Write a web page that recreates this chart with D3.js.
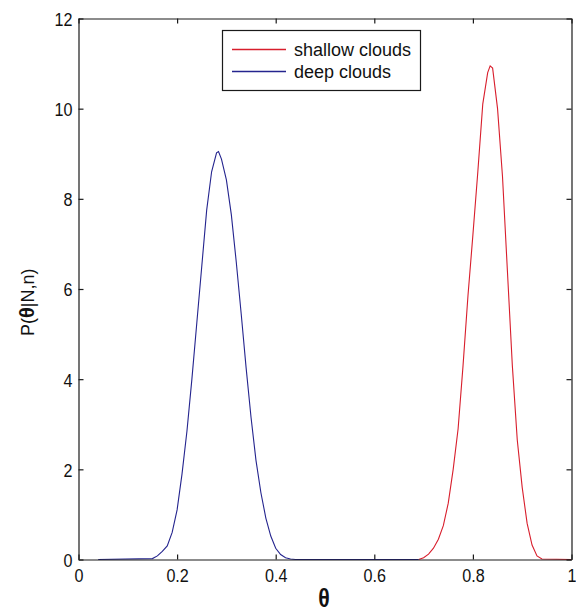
<!DOCTYPE html>
<html>
<head>
<meta charset="utf-8">
<script src="https://cdn.jsdelivr.net/npm/d3@7"></script>
<style>
  html, body { margin: 0; padding: 0; background: #fff; }
  svg { display: block; }
  text { font-family: "Liberation Sans", Arial, Helvetica, sans-serif; fill: #111; }
</style>
</head>
<body>
<svg id="chart" width="576" height="614"></svg>
<script>
// Posterior densities of theta for the two cloud types
const thetaDeep = [0.04, 0.15, 0.16, 0.17, 0.18, 0.19, 0.20, 0.21, 0.22, 0.23, 0.24, 0.25, 0.26, 0.27, 0.28, 0.284,
                   0.29, 0.30, 0.31, 0.32, 0.33, 0.34, 0.35, 0.36, 0.37, 0.38, 0.39, 0.40, 0.41, 0.42, 0.43, 0.44, 0.69];
const pDeep     = [0, 0.02, 0.08, 0.18, 0.30, 0.60, 1.10, 1.90, 2.85, 4.00, 5.25, 6.50, 7.75, 8.60, 9.02, 9.05,
                   8.88, 8.42, 7.65, 6.60, 5.45, 4.25, 3.15, 2.20, 1.48, 0.92, 0.52, 0.25, 0.11, 0.04, 0.01, 0, 0];

const thetaShallow = [0.69, 0.70, 0.71, 0.72, 0.73, 0.74, 0.75, 0.76, 0.77, 0.78, 0.79, 0.80, 0.81, 0.82, 0.83, 0.835,
                      0.84, 0.85, 0.86, 0.87, 0.88, 0.89, 0.90, 0.91, 0.92, 0.93, 0.94, 1.00];
const pShallow     = [0, 0.04, 0.12, 0.25, 0.45, 0.75, 1.25, 2.00, 2.90, 4.30, 5.85, 7.20, 8.60, 10.10, 10.80, 10.95,
                      10.90, 10.00, 8.50, 6.40, 4.30, 2.65, 1.60, 0.80, 0.32, 0.08, 0.01, 0];

const seriesNames = ["shallow clouds", "deep clouds"];
const seriesColors = ["#d81e2c", "#24248e"];

const xTicks = [0, 0.2, 0.4, 0.6, 0.8, 1];
const xTickLabels = ["0", "0.2", "0.4", "0.6", "0.8", "1"];
const yTicks = [0, 2, 4, 6, 8, 10, 12];

const svg = d3.select("#chart");
const plotLeft = 78.5, plotRight = 571.5, plotTop = 18.5, plotBottom = 559.5;

const x = d3.scaleLinear().domain([0, 1]).range([plotLeft, plotRight]);
const y = d3.scaleLinear().domain([0, 12]).range([plotBottom, plotTop]);

// curves
const curve = d3.line().x(d => x(d[0])).y(d => y(d[1]));
const series = [
  d3.zip(thetaShallow, pShallow),
  d3.zip(thetaDeep, pDeep)
];
svg.selectAll("path.curve")
  .data(series)
  .join("path")
  .attr("class", "curve")
  .attr("d", curve)
  .attr("fill", "none")
  .attr("stroke", (d, i) => seriesColors[i])
  .attr("stroke-width", 1.1);

// axes box with inward ticks on every side
const tickLen = 5;
const sx = 0.85;
const gx = svg.append("g").attr("transform", `translate(0,${plotBottom})`)
  .call(d3.axisBottom(x).tickValues(xTicks).tickFormat((d, i) => xTickLabels[i])
        .tickSizeInner(-tickLen).tickSizeOuter(0).tickPadding(9));
const gy = svg.append("g").attr("transform", `translate(${plotLeft},0)`)
  .call(d3.axisLeft(y).tickValues(yTicks).tickFormat(d3.format("d"))
        .tickSizeInner(-tickLen).tickSizeOuter(0));
const gt = svg.append("g").attr("transform", `translate(0,${plotTop})`)
  .call(d3.axisTop(x).tickValues(xTicks).tickFormat("").tickSizeInner(-tickLen).tickSizeOuter(0));
const gr = svg.append("g").attr("transform", `translate(${plotRight},0)`)
  .call(d3.axisRight(y).tickValues(yTicks).tickFormat("").tickSizeInner(-tickLen).tickSizeOuter(0));

[gx, gy, gt, gr].forEach(g => {
  g.select(".domain").attr("stroke", "#1a1a1a").attr("stroke-width", 1.2);
  g.selectAll(".tick line").attr("stroke", "#1a1a1a").attr("stroke-width", 1.2);
});

gx.selectAll(".tick text")
  .attr("font-size", 19).attr("fill", "#222")
  .attr("transform", `scale(${sx},1)`);
gy.selectAll(".tick text")
  .attr("font-size", 19).attr("fill", "#222")
  .attr("x", -6 / sx).attr("dy", "0.36em")
  .attr("transform", `scale(${sx},1)`);

// axis titles
svg.append("text")
  .attr("transform", "translate(324,607) scale(0.85,1)")
  .attr("text-anchor", "middle")
  .attr("font-size", 25)
  .attr("font-weight", "bold")
  .text("θ");

const yTitle = svg.append("text")
  .attr("transform", "translate(34,336) rotate(-90)")
  .attr("font-size", 18);
yTitle.append("tspan").text("P(");
yTitle.append("tspan").attr("font-weight", "bold").attr("font-size", 20).text("θ");
yTitle.append("tspan").text("|N,n)");

// legend
const lg = svg.append("g");
lg.append("rect")
  .attr("x", 222.5).attr("y", 30.5).attr("width", 198).attr("height", 60)
  .attr("fill", "#fff").attr("stroke", "#1a1a1a").attr("stroke-width", 1.2);
const rowY = [49.5, 71.5];
seriesNames.forEach((name, i) => {
  lg.append("line")
    .attr("x1", 232).attr("x2", 286).attr("y1", rowY[i]).attr("y2", rowY[i])
    .attr("stroke", seriesColors[i]).attr("stroke-width", 1.5);
  lg.append("text")
    .attr("x", 294).attr("y", rowY[i]).attr("dy", "0.35em")
    .attr("font-size", 18)
    .text(name);
});
</script>
</body>
</html>
